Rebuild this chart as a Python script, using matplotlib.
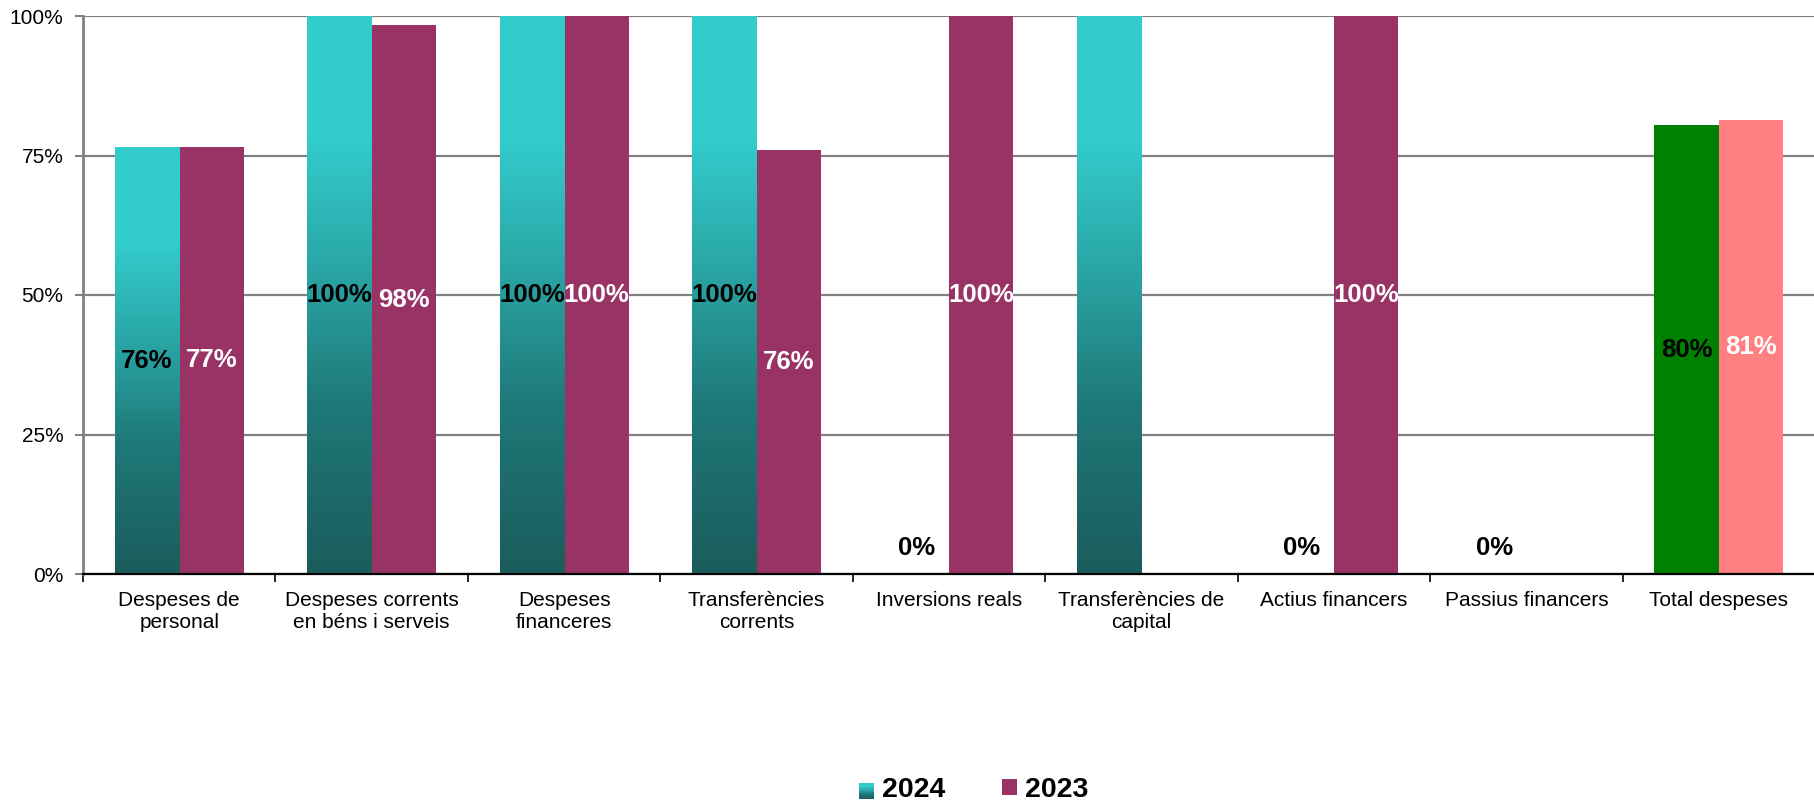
import numpy as np
import matplotlib
matplotlib.use('Agg')
import matplotlib.pyplot as plt
from matplotlib.colors import LinearSegmentedColormap
from matplotlib.patches import Rectangle, Patch
from matplotlib.legend_handler import HandlerBase
from matplotlib.ticker import FixedLocator, PercentFormatter

plt.rcParams['font.family'] = ['Liberation Sans', 'DejaVu Sans']

categories = ['Despeses de\npersonal', 'Despeses corrents\nen béns i serveis',
              'Despeses\nfinanceres', 'Transferències\ncorrents', 'Inversions reals',
              'Transferències de\ncapital', 'Actius financers', 'Passius financers',
              'Total despeses']
v2024 = [0.764, 1.0, 1.0, 1.0, 0.0, 1.0, 0.0, 0.0, 0.804]
v2023 = [0.766, 0.983, 1.0, 0.759, 1.0, 0.0, 1.0, 0.0, 0.813]
lab2024 = ['76%', '100%', '100%', '100%', '0%', None, '0%', '0%', '80%']
lab2023 = ['77%', '98%', '100%', '76%', '100%', None, '100%', None, '81%']
series = ['2024', '2023']

# teal gradient (bottom -> top)
teal = LinearSegmentedColormap.from_list('teal', [
    (0.0, '#1B5C5C'), (0.3, '#1F7878'), (0.55, '#2AA6A6'),
    (0.78, '#33CCCC'), (1.0, '#33CCCC')])
maroon = '#993366'
total_cols = ['#008000', '#FF8080']

fig = plt.figure(figsize=(18.15, 8.06), dpi=100)
ax = fig.add_axes([83 / 1815, (806 - 574) / 806, (1815 - 83) / 1815, (574 - 16) / 806])

x = np.arange(len(categories))
w = 0.335
last = len(categories) - 1

c2024 = ['none'] * last + [total_cols[0]]
c2023 = [maroon] * last + [total_cols[1]]
b24 = ax.bar(x - w / 2, v2024, w, color=c2024, zorder=3)
b23 = ax.bar(x + w / 2, v2023, w, color=c2023, zorder=3)

grad = np.linspace(0, 1, 256).reshape(-1, 1)
for i, p in enumerate(b24):
    if i == last or p.get_height() <= 0:
        continue
    x0 = p.get_x()
    ax.imshow(grad, cmap=teal, origin='lower', aspect='auto', zorder=3,
              extent=[x0, x0 + p.get_width(), 0, p.get_height()])

for bars, labs, col in [(b24, lab2024, 'black'), (b23, lab2023, 'white')]:
    for p, lab in zip(bars, labs):
        if lab is None:
            continue
        cx = p.get_x() + p.get_width() / 2
        h = p.get_height()
        if h > 0:
            ax.text(cx, h / 2, lab, ha='center', va='center', fontsize=18.5,
                    fontweight='bold', color=col, zorder=5)
        else:
            ax.annotate(lab, (cx, 0), xytext=(0, 19), textcoords='offset points',
                        ha='center', va='center', fontsize=18.5,
                        fontweight='bold', color='black', zorder=5)

ax.set_xlim(-0.5, len(categories) - 0.5)
ax.set_ylim(0, 1)
ax.set_yticks([0, 0.25, 0.5, 0.75, 1.0])
ax.yaxis.set_major_formatter(PercentFormatter(1.0, decimals=0))
ax.set_xticks(x)
ax.set_xticklabels(categories, fontsize=15)
ax.xaxis.set_minor_locator(FixedLocator(np.arange(-0.5, len(categories), 1)))
ax.tick_params(axis='x', which='major', length=0, pad=12)
ax.tick_params(axis='x', which='minor', length=6, width=1.2, color='black', direction='out')
ax.tick_params(axis='y', labelsize=15, length=6, width=1.5, color='#808080', pad=8)
ax.yaxis.grid(True, color='#808080', lw=1.6, zorder=0)
ax.set_axisbelow(True)
for s in ['top', 'right']:
    ax.spines[s].set_visible(False)
ax.spines['left'].set_color('#808080')
ax.spines['left'].set_linewidth(2)
ax.spines['bottom'].set_color('black')
ax.spines['bottom'].set_linewidth(1.6)
ax.spines['bottom'].set_zorder(6)


class GradHandler(HandlerBase):
    def create_artists(self, legend, orig, xd, yd, wd, ht, fontsize, trans):
        n = 12
        return [Rectangle((xd, yd + ht * i / n), wd, ht / n + 0.01,
                          facecolor=teal((i + 0.5) / n), edgecolor='none',
                          transform=trans) for i in range(n)]


h24 = Patch(label=series[0])
h23 = Patch(facecolor=maroon, label=series[1])
fig.legend(handles=[h24, h23], handler_map={h24: GradHandler()}, ncol=2,
           loc='center', bbox_to_anchor=(974 / 1815, 16 / 806), frameon=False,
           prop={'size': 20.5, 'weight': 'bold'}, handlelength=0.5,
           handleheight=0.5, handletextpad=0.3, columnspacing=2.0)

fig.savefig('out.png', dpi=100)
